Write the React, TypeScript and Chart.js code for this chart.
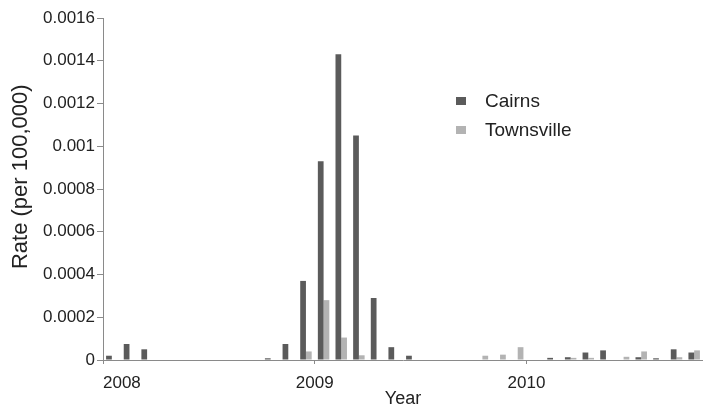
import React, { useEffect, useRef } from "react";
import { Chart, registerables } from "chart.js";

Chart.register(...registerables);

// Monthly categories, Jan 2008 – Oct 2010
const months: string[] = [
  "Jan 2008", "Feb 2008", "Mar 2008", "Apr 2008", "May 2008", "Jun 2008",
  "Jul 2008", "Aug 2008", "Sep 2008", "Oct 2008", "Nov 2008", "Dec 2008",
  "Jan 2009", "Feb 2009", "Mar 2009", "Apr 2009", "May 2009", "Jun 2009",
  "Jul 2009", "Aug 2009", "Sep 2009", "Oct 2009", "Nov 2009", "Dec 2009",
  "Jan 2010", "Feb 2010", "Mar 2010", "Apr 2010", "May 2010", "Jun 2010",
  "Jul 2010", "Aug 2010", "Sep 2010", "Oct 2010",
];

const cairns: number[] = [
  0.00002, 0.000075, 0.00005, 0, 0, 0,
  0, 0, 0, 0.000008, 0.000075, 0.00037,
  0.00093, 0.00143, 0.00105, 0.00029, 0.00006, 0.00002,
  0, 0, 0, 0, 0, 0,
  0, 0.00001, 0.000013, 0.000035, 0.000045, 0,
  0.000013, 0.000008, 0.00005, 0.000035,
];

const townsville: number[] = [
  0, 0, 0, 0, 0, 0,
  0, 0, 0, 0, 0, 0.00004,
  0.00028, 0.000105, 0.000022, 0, 0, 0,
  0, 0, 0, 0.00002, 0.000025, 0.00006,
  0, 0, 0.00001, 0.00001, 0, 0.000015,
  0.00004, 0, 0.000013, 0.000045,
];

// Year labels and the month index where each year starts
const yearLabels: string[] = ["2008", "2009", "2010"];
const yearStartIndex: number[] = [0, 12, 24];

const yTickLabels: string[] = [
  "0", "0.0002", "0.0004", "0.0006", "0.0008", "0.001", "0.0012", "0.0014", "0.0016",
];

const FONT = "'Liberation Sans', Arial, sans-serif";
const CAIRNS_COLOR = "#5b5b5b";
const TOWNSVILLE_COLOR = "#b3b3b3";
const AXIS_COLOR = "#8a8a8a";
const TEXT_COLOR = "#222222";

export default function App() {
  const canvasRef = useRef<HTMLCanvasElement | null>(null);

  useEffect(() => {
    document.body.style.margin = "0";
    const canvas = canvasRef.current;
    if (!canvas) return;
    const chart = new Chart(canvas, {
      type: "bar",
      data: {
        labels: months,
        datasets: [
          {
            label: "Cairns",
            data: cairns,
            backgroundColor: CAIRNS_COLOR,
            categoryPercentage: 0.65,
            barPercentage: 1.0,
            xAxisID: "x",
          },
          {
            label: "Townsville",
            data: townsville,
            backgroundColor: TOWNSVILLE_COLOR,
            categoryPercentage: 0.65,
            barPercentage: 1.0,
            xAxisID: "x",
          },
        ],
      },
      options: {
        animation: false,
        responsive: false,
        maintainAspectRatio: false,
        layout: { padding: { top: 18, right: 0, left: 0, bottom: 0 } },
        plugins: {
          legend: { display: false },
          tooltip: { enabled: false },
        },
        scales: {
          x: {
            type: "category",
            display: false,
            offset: true,
          },
          x2: {
            type: "linear",
            position: "bottom",
            min: 0,
            max: months.length,
            offset: false,
            afterBuildTicks: (scale: any) => {
              const t = yearStartIndex.map((v) => ({ value: v }));
              t.push({ value: months.length });
              scale.ticks = t;
            },
            afterFit: (scale: any) => {
              scale.height = 50;
              scale.paddingLeft = 0;
              scale.paddingRight = 0;
            },
            ticks: {
              autoSkip: false,
              maxRotation: 0,
              align: "inner",
              padding: 9,
              color: TEXT_COLOR,
              font: { family: FONT, size: 17 },
              callback: (value: any) => {
                const i = yearStartIndex.indexOf(Number(value));
                return i >= 0 ? yearLabels[i] : "";
              },
            },
            grid: {
              display: true,
              offset: false,
              drawOnChartArea: false,
              drawTicks: true,
              tickLength: 4,
              color: AXIS_COLOR,
            },
            border: { display: true, color: AXIS_COLOR },
            title: {
              display: true,
              text: "Year",
              color: TEXT_COLOR,
              font: { family: FONT, size: 18 },
              padding: { top: 0, bottom: 0 },
            },
          },
          y: {
            type: "linear",
            min: 0,
            max: 0.0016,
            afterFit: (scale: any) => {
              scale.width = 103;
            },
            ticks: {
              stepSize: 0.0002,
              padding: 2,
              color: TEXT_COLOR,
              font: { family: FONT, size: 17 },
              callback: (_v: any, index: number) => yTickLabels[index],
            },
            grid: {
              display: true,
              drawOnChartArea: false,
              drawTicks: true,
              tickLength: 6,
              color: AXIS_COLOR,
            },
            border: { display: true, color: AXIS_COLOR },
            title: {
              display: true,
              text: "    Rate (per 100,000)",
              color: TEXT_COLOR,
              font: { family: FONT, size: 22 },
              padding: { top: 8, bottom: 0 },
            },
          },
        },
      },
    });
    return () => chart.destroy();
  }, []);

  const legendItem = (label: string, color: string, top: number) => (
    <div
      style={{
        position: "absolute",
        left: 456,
        top,
        display: "flex",
        alignItems: "center",
        fontFamily: FONT,
        fontSize: 19,
        color: TEXT_COLOR,
        lineHeight: "22px",
      }}
    >
      <span
        style={{
          display: "inline-block",
          width: 10,
          height: 8,
          background: color,
          marginRight: 19,
        }}
      />
      <span>{label}</span>
    </div>
  );

  return (
    <div style={{ position: "relative", width: 703, height: 410 }}>
      <canvas ref={canvasRef} width={703} height={410} style={{ display: "block" }} />
      {legendItem("Cairns", CAIRNS_COLOR, 90)}
      {legendItem("Townsville", TOWNSVILLE_COLOR, 119)}
    </div>
  );
}
